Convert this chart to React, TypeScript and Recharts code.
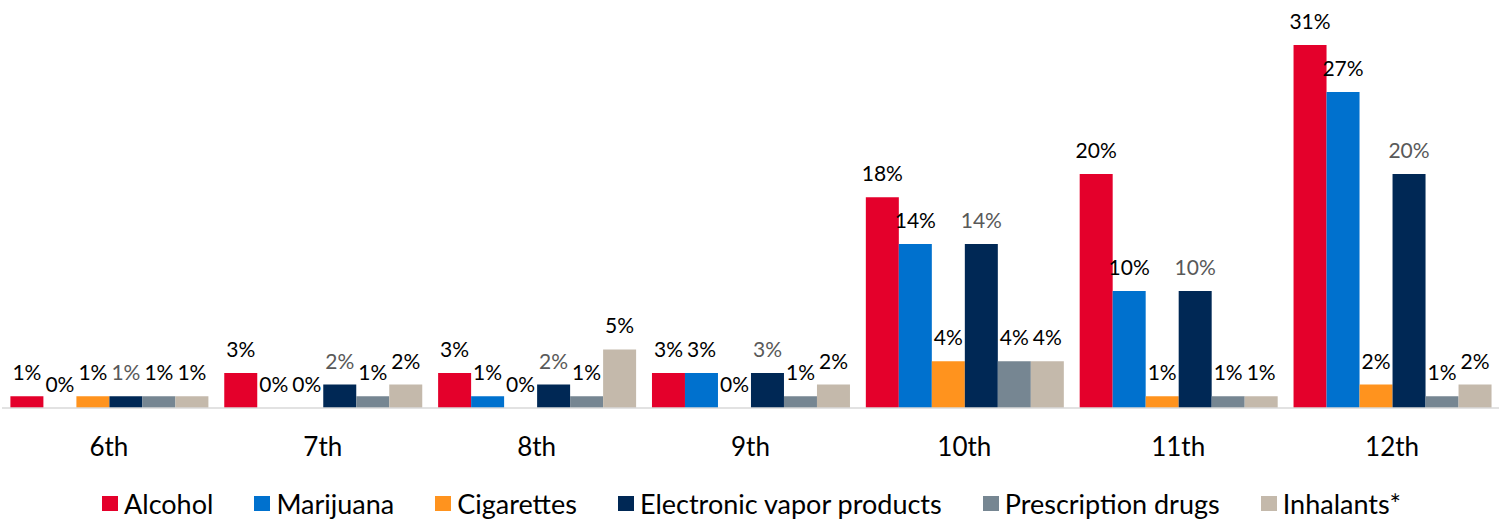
import { Bar, BarChart, LabelList, Legend, XAxis, YAxis } from "recharts";

const GRADES = ["6th", "7th", "8th", "9th", "10th", "11th", "12th"];
const ALCOHOL = [1, 3, 3, 3, 18, 20, 31];
const MARIJUANA = [0, 0, 1, 3, 14, 10, 27];
const CIGARETTES = [1, 0, 0, 0, 4, 1, 2];
const VAPOR = [1, 2, 2, 3, 14, 10, 20];
const PRESCRIPTION = [1, 1, 1, 1, 4, 1, 1];
const INHALANTS = [1, 2, 5, 2, 4, 1, 2];

const SERIES = [
  { key: "alcohol", name: "Alcohol", color: "#E4002B", label: "#000000" },
  { key: "marijuana", name: "Marijuana", color: "#0071CE", label: "#000000" },
  { key: "cigarettes", name: "Cigarettes", color: "#FF931E", label: "#000000" },
  { key: "vapor", name: "Electronic vapor products", color: "#002855", label: "#595959" },
  { key: "rx", name: "Prescription drugs", color: "#768692", label: "#000000" },
  { key: "inhalants", name: "Inhalants*", color: "#C4B9AB", label: "#000000" },
];

const data = GRADES.map((g, i) => ({
  grade: g,
  alcohol: ALCOHOL[i],
  marijuana: MARIJUANA[i],
  cigarettes: CIGARETTES[i],
  vapor: VAPOR[i],
  rx: PRESCRIPTION[i],
  inhalants: INHALANTS[i],
}));

const FONT = "Lato, 'Open Sans', sans-serif";

function GradeTick({ x, y, payload }: any) {
  return (
    <text x={x} y={y} dy={40} textAnchor="middle" fontSize={26} fill="#000" fontFamily={FONT}>
      {payload.value}
    </text>
  );
}

function LegendRow() {
  return (
    <div style={{ height: 52, display: "flex", justifyContent: "center", alignItems: "center", paddingTop: 18, paddingLeft: 2, boxSizing: "border-box", fontFamily: FONT, fontSize: 27, color: "#000" }}>
      {SERIES.map((s) => (
        <span key={s.key} style={{ display: "inline-flex", alignItems: "center", margin: "0 20.5px", whiteSpace: "nowrap" }}>
          <span style={{ width: 16, height: 15, background: s.color, marginRight: 6, display: "inline-block" }} />
          {s.name}
        </span>
      ))}
    </div>
  );
}

export default function App() {
  return (
    <div style={{ position: "absolute", left: 0, top: 0, width: 1503, height: 520, background: "#fff" }}>
      <BarChart width={1503} height={520} data={data} margin={{ top: 10, right: 4, bottom: 0, left: 2 }} barGap={0} barCategoryGap={8.4}>
        <XAxis dataKey="grade" height={60} tickLine={false} axisLine={{ stroke: "#D9D9D9", strokeWidth: 1.5 }} tick={<GradeTick />} interval={0} />
        <YAxis hide domain={[0, 34]} />
        <Legend verticalAlign="bottom" content={<LegendRow />} wrapperStyle={{ height: 52 }} />
        {SERIES.map((s) => (
          <Bar key={s.key} dataKey={s.key} name={s.name} fill={s.color} minPointSize={0.01} isAnimationActive={false}>
            <LabelList dataKey={s.key} position="top" offset={16} fill={s.label} fontSize={21} fontFamily={FONT} formatter={(v: any) => `${v}%`} />
          </Bar>
        ))}
      </BarChart>
    </div>
  );
}
